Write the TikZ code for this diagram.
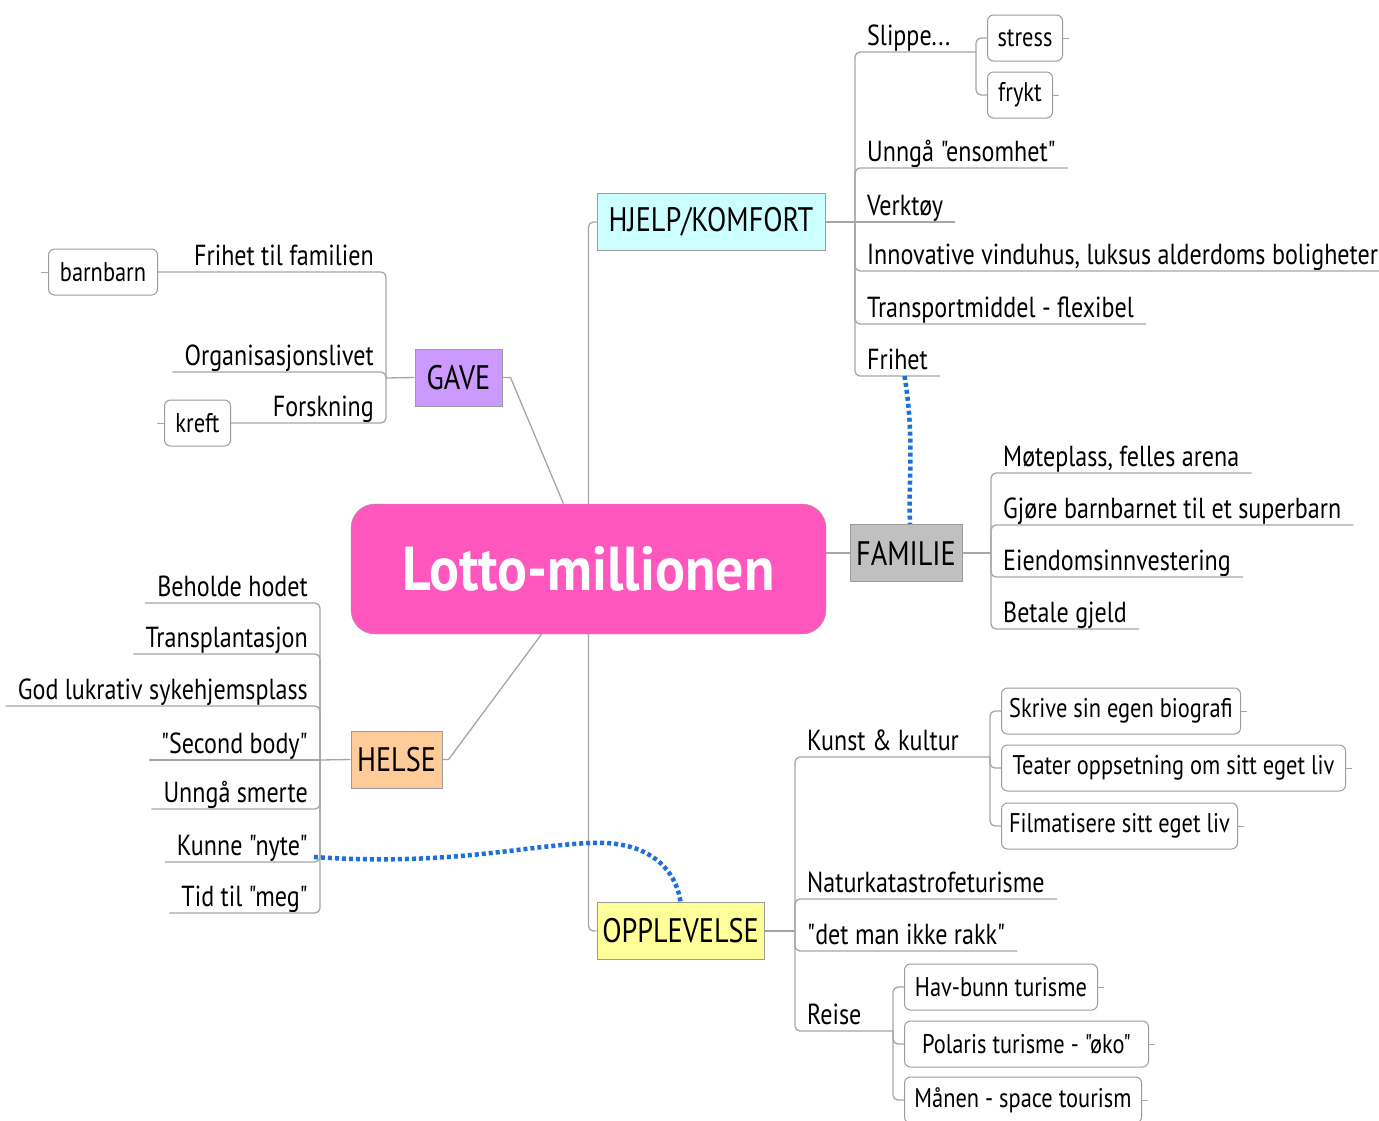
\documentclass[tikz,border=0pt]{standalone}
\usepackage{fontspec}
\newfontfamily\gs[FakeStretch=0.83]{PT Sans}
\newfontfamily\gsc[FakeStretch=0.9]{PT Sans}
\definecolor{lineg}{HTML}{A6A6A6}
\definecolor{boxg}{HTML}{9C9C9C}
\definecolor{linkblue}{HTML}{1E6FD6}
\definecolor{pinkc}{HTML}{FF57BD}
\definecolor{cyanc}{HTML}{CCFFFF}
\definecolor{purplec}{HTML}{CC99FF}
\definecolor{grayc}{HTML}{C0C0C0}
\definecolor{peachc}{HTML}{FFCC99}
\definecolor{yellowc}{HTML}{FFFF99}
\begin{document}
\begin{tikzpicture}[x=1pt,y=-1pt,
  conn/.style={draw=lineg,line width=1.3pt,rounded corners=5pt},
  stub/.style={draw=lineg,line width=1pt},
  link/.style={draw=linkblue,line width=4.5pt,dash pattern=on 4pt off 3pt},
  central/.style={draw=boxg,fill=pinkc,rounded corners=24pt,minimum width=475pt,minimum height=130pt,text=white,font=\gsc\bfseries\fontsize{62}{70}\selectfont,inner sep=0pt},
  topic/.style={draw=boxg,line width=1pt,inner sep=0pt,minimum height=57pt,font=\gs\fontsize{34}{37}\selectfont,text=black},
  leaf/.style={draw=boxg,rounded corners=6pt,line width=1pt,fill=white,inner sep=0pt,minimum height=46pt,font=\gs\fontsize{27}{30}\selectfont,anchor=west,text=black},
  itemR/.style={anchor=south west,inner xsep=12pt,inner ysep=0pt,text height=21pt,text depth=6pt,font=\gs\fontsize{29}{32}\selectfont,text=black},
  itemL/.style={anchor=south east,inner xsep=12pt,inner ysep=0pt,text height=21pt,text depth=6pt,font=\gs\fontsize{29}{32}\selectfont,text=black}
]
\useasboundingbox[fill=white] (0,0) rectangle (1379,1120);

% central and topics
\node[central] (lotto) at (588.5,569) {Lotto-millionen};
\node[topic,fill=cyanc,minimum width=228pt] (hjelp) at (711,222) {HJELP/KOMFORT};
\node[topic,fill=purplec,minimum width=87pt] (gave) at (458.5,377.5) {GAVE};
\node[topic,fill=grayc,minimum width=112pt] (familie) at (906,553) {FAMILIE};
\node[topic,fill=peachc,minimum width=91pt] (helse) at (396.5,759.5) {HELSE};
\node[topic,fill=yellowc,minimum width=167pt] (opp) at (680.5,931) {OPPLEVELSE};

% leaf boxes
\node[leaf,minimum width=75pt] (stress) at (987,38) {stress};
\node[leaf,minimum width=65pt] (frykt) at (987,95) {frykt};
\node[leaf,minimum width=109pt] (barnbarn) at (48,272) {barnbarn};
\node[leaf,minimum width=66pt] (kreft) at (164,423) {kreft};
\node[leaf,minimum width=239pt] (skrive) at (1001,711) {Skrive sin egen biografi};
\node[leaf,minimum width=344pt] (teater) at (1001,768) {Teater oppsetning om sitt eget liv};
\node[leaf,minimum width=236pt] (film) at (1001,826) {Filmatisere sitt eget liv};
\node[leaf,minimum width=193pt] (hav) at (904,987) {Hav-bunn turisme};
\node[leaf,minimum width=244pt] (polaris) at (904,1044) {Polaris turisme - "øko"};
\node[leaf,minimum width=237pt] (manen) at (904,1100) {Månen - space tourism};

% HJELP items
\node[itemR] (slippe) at (855,52) {Slippe...};
\node[itemR] (ensom) at (855,168) {Unngå "ensomhet"};
\node[itemR] (verk) at (855,222) {Verktøy};
\node[itemR] (innov) at (855,271) {Innovative vinduhus, luksus alderdoms boligheter};
\node[itemR] (transp) at (855,324) {Transportmiddel - flexibel};
\node[itemR] (frihet) at (855,376) {Frihet};
% FAMILIE items
\node[itemR] (mote) at (991,473) {Møteplass, felles arena};
\node[itemR] (gjore) at (991,525) {Gjøre barnbarnet til et superbarn};
\node[itemR] (eiend) at (991,577) {Eiendomsinnvestering};
\node[itemR] (betale) at (991,629) {Betale gjeld};
% OPPLEVELSE items
\node[itemR] (kunst) at (795,757) {Kunst \& kultur};
\node[itemR] (natur) at (795,899) {Naturkatastrofeturisme};
\node[itemR] (det) at (795,951) {"det man ikke rakk"};
\node[itemR] (reise) at (795,1031) {Reise};
% GAVE items
\node[itemL] (ftf) at (386,272) {Frihet til familien};
\node[itemL] (org) at (386,372) {Organisasjonslivet};
\node[itemL] (forsk) at (386,423) {Forskning};
% HELSE items
\node[itemL] (beholde) at (320,603) {Beholde hodet};
\node[itemL] (transpl) at (320,654) {Transplantasjon};
\node[itemL] (god) at (320,706) {God lukrativ sykehjemsplass};
\node[itemL] (second) at (320,760) {"Second body"};
\node[itemL] (unnga) at (320,809) {Unngå smerte};
\node[itemL] (kunne) at (320,862) {Kunne "nyte"};
\node[itemL] (tid) at (320,913) {Tid til "meg"};

% hubs
\coordinate (hjhub) at (855,222);
\coordinate (slhub) at (976,52);
\coordinate (fahub) at (991,553);
\coordinate (ophub) at (795,931);
\coordinate (kuhub) at (990,757);
\coordinate (rehub) at (893,1031);
\coordinate (gahub) at (386,378);
\coordinate (hehub) at (320,760);

% central connectors
\draw[conn] (lotto.north) |- (hjelp.west);
\draw[conn] (lotto.south) |- (opp.west);
\draw[conn] (lotto.east |- familie.west) -- (familie.west);
\draw[conn,rounded corners=0pt] (gave.east) -- ++(8,0) -- ([xshift=-25pt]lotto.north);
\draw[conn,rounded corners=0pt] (helse.east) -- ++(6,0) -- ([xshift=-47pt]lotto.south);

% HJELP branch
\draw[conn] (hjelp.east) -- (hjhub);
\draw[conn] (hjhub) -- (slippe.south west) -- (slhub);
\foreach \n in {ensom,innov,transp,frihet}{\draw[conn] (hjhub) -- (\n.south west) -- (\n.south east);}
\draw[conn] (hjhub) -- (verk.south east);
\draw[conn] (slhub) |- (stress.west);
\draw[conn] (slhub) |- (frykt.west);

% FAMILIE branch
\draw[conn] (familie.east) -- (fahub);
\foreach \n in {mote,gjore,eiend,betale}{\draw[conn] (fahub) -- (\n.south west) -- (\n.south east);}

% OPPLEVELSE branch
\draw[conn] (opp.east) -- (ophub);
\foreach \n in {natur,det}{\draw[conn] (ophub) -- (\n.south west) -- (\n.south east);}
\draw[conn] (ophub) -- (kunst.south west) -- (kuhub);
\draw[conn] (ophub) -- (reise.south west) -- (rehub);
\foreach \n in {skrive,teater,film}{\draw[conn] (kuhub) |- (\n.west);}
\foreach \n in {hav,polaris,manen}{\draw[conn] (rehub) |- (\n.west);}

% GAVE branch
\draw[conn] (gave.west) -- (gahub);
\draw[conn] (gahub) -- (ftf.south east) -- (barnbarn.east);
\draw[conn] (gahub) -- (org.south east) -- (org.south west);
\draw[conn] (gahub) -- (forsk.south east) -- (kreft.east);

% HELSE branch
\draw[conn] (helse.west) -- (hehub);
\foreach \n in {beholde,transpl,god,unnga,kunne,tid}{\draw[conn] (hehub) -- (\n.south east) -- (\n.south west);}
\draw[conn] (second.south east) -- (second.south west);

% stubs
\foreach \n in {stress,frykt,skrive,teater,film,hav,polaris,manen}{\draw[stub] (\n.east) -- ++(6,0);}
\foreach \n in {barnbarn,kreft}{\draw[stub] (\n.west) -- ++(-7,0);}

% blue dotted relations
\draw[link] ([xshift=7pt]frihet.south) .. controls (915,440) and (908,480) .. ([xshift=4pt]familie.north);
\draw[link] ([xshift=-6pt,yshift=5pt]kunne.south east) .. controls (450,866) and (520,846) .. (590,843) .. controls (650,840) and (676,870) .. (opp.north);
\end{tikzpicture}
\end{document}
